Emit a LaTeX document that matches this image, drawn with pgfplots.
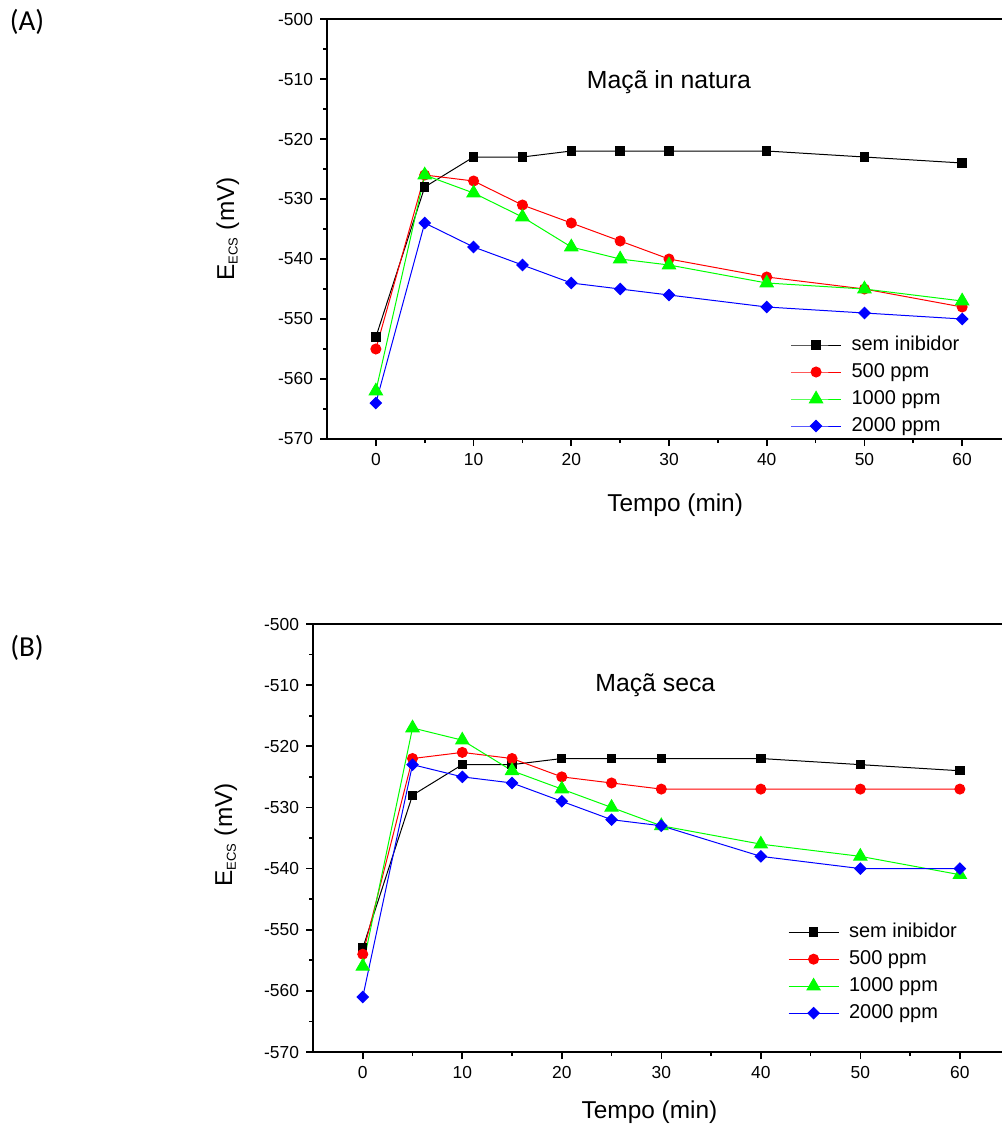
\documentclass[border=0pt]{standalone}
\usepackage{pgfplots}
\pgfplotsset{compat=1.18}
\usepackage{fontspec}
\setmainfont{Liberation Sans}
\newfontfamily\calibri{Carlito}
\definecolor{pgreen}{RGB}{0,255,0}

\pgfplotsset{
 panel/.style={
  scale only axis, xmin=-5, xmax=65, ymin=-570, ymax=-500,
  xtick={0,10,...,60}, minor x tick num=1,
  ytick={-570,-560,...,-500},
  yticklabels={-570,-560,-550,-540,-530,-520,-510,-500},
  minor y tick num=1,
  tick align=outside, tick pos=left,
  major tick length=3.5pt, minor tick length=2pt,
  axis line style={line width=1pt},
  every tick/.style={line width=0.8pt, black},
  ticklabel style={font=\fontsize{8.7}{10}\selectfont},
  /pgf/number format/assume math mode=true,
  label style={font=\fontsize{12.2}{13}\selectfont},
  ylabel={E\textsubscript{\fontsize{6.5}{7}\selectfont ECS} (mV)},
  xlabel={Tempo (min)},
  legend style={draw=none, fill=none, font=\fontsize{10}{11}\selectfont,
   anchor=north west, row sep=3.5pt, inner sep=0pt,
   nodes={inner sep=0pt, text height=7.5pt, text depth=2.5pt},
   /tikz/every odd column/.style={column sep=5pt}},
  legend cell align=left,
  legend image code/.code={\draw[mark repeat=2,mark phase=2] plot coordinates {(0pt,0pt) (12.5pt,0pt) (25pt,0pt)};},
  every axis plot/.append style={line width=0.5pt},
 },
 s0/.style={black, mark=square*, mark size=2.1pt},
 s1/.style={red, mark=*, mark size=2.5pt},
 s2/.style={pgreen, mark=triangle*, mark size=3.8pt},
 s3/.style={blue, mark=square*, mark size=2pt, mark options={rotate=45}},
}

\begin{document}
\begin{tikzpicture}[x=1pt,y=1pt]
\useasboundingbox (0,0) rectangle (500.5,-564);
\node[font=\calibri\fontsize{14.5}{16}\selectfont] at (13.5,-11) {(A)};
\node[font=\calibri\fontsize{14.5}{16}\selectfont] at (13.5,-324) {(B)};

% (A) maca in natura
\begin{axis}[panel, at={(163.5pt,-219.5pt)}, anchor=south west,
  width=342pt, height=210pt,
  ylabel style={at={(axis description cs:-0.145,0.5)}, anchor=center},
  xlabel style={at={(axis description cs:0.509,-0.157)}, anchor=center},
  legend style={at={(axis cs:42.4,-552.6)}}]
\addplot[s0] coordinates {(0,-553) (5,-528) (10,-523) (15,-523) (20,-522) (25,-522) (30,-522) (40,-522) (50,-523) (60,-524)};
\addplot[s1] coordinates {(0,-555) (5,-526) (10,-527) (15,-531) (20,-534) (25,-537) (30,-540) (40,-543) (50,-545) (60,-548)};
\addplot[s2] coordinates {(0,-562) (5,-526) (10,-529) (15,-533) (20,-538) (25,-540) (30,-541) (40,-544) (50,-545) (60,-547)};
\addplot[s3] coordinates {(0,-564) (5,-534) (10,-538) (15,-541) (20,-544) (25,-545) (30,-546) (40,-548) (50,-549) (60,-550)};
\legend{sem inibidor, 500 ppm, 1000 ppm, 2000 ppm}
\node[font=\fontsize{12.4}{13}\selectfont] at (axis cs:30,-510.5) {Maçã in natura};
\end{axis}

% (B) maca seca
\begin{axis}[panel, at={(156.5pt,-526pt)}, anchor=south west,
  width=348.3pt, height=214pt,
  ylabel style={at={(axis description cs:-0.125,0.507)}, anchor=center},
  xlabel style={at={(axis description cs:0.483,-0.14)}, anchor=center},
  legend style={at={(axis cs:42.7,-548.7)}}]
\addplot[s0] coordinates {(0,-553) (5,-528) (10,-523) (15,-523) (20,-522) (25,-522) (30,-522) (40,-522) (50,-523) (60,-524)};
\addplot[s1] coordinates {(0,-554) (5,-522) (10,-521) (15,-522) (20,-525) (25,-526) (30,-527) (40,-527) (50,-527) (60,-527)};
\addplot[s2] coordinates {(0,-556) (5,-517) (10,-519) (15,-524) (20,-527) (25,-530) (30,-533) (40,-536) (50,-538) (60,-541)};
\addplot[s3] coordinates {(0,-561) (5,-523) (10,-525) (15,-526) (20,-529) (25,-532) (30,-533) (40,-538) (50,-540) (60,-540)};
\legend{sem inibidor, 500 ppm, 1000 ppm, 2000 ppm}
\node[font=\fontsize{12.4}{13}\selectfont] at (axis cs:29.4,-510) {Maçã seca};
\end{axis}
\end{tikzpicture}
\end{document}
